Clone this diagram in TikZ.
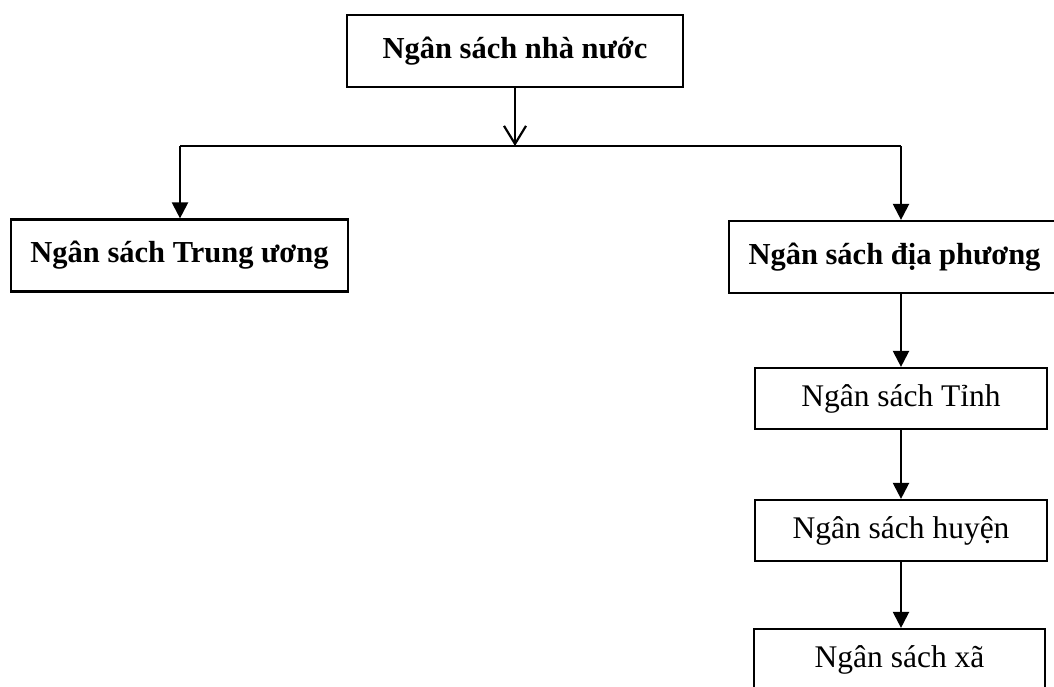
\documentclass[tikz,border=0pt]{standalone}
\usepackage{fontspec}
\setmainfont{Liberation Serif}
\usetikzlibrary{arrows.meta}
\begin{document}
\begin{tikzpicture}[x=1pt, y=-1pt, line width=2.2pt, >={Triangle[length=16pt,width=16pt]},
		box/.style={draw, rectangle, inner sep=0pt, minimum height=61pt, font=\fontsize{31.5}{36}\selectfont},
		boldbox/.style={box, minimum height=72pt, font=\fontsize{30.5}{36}\selectfont\bfseries}]
	\useasboundingbox (0,0) rectangle (1054,686);
	\node[boldbox, minimum width=336pt] (nsnn) at (515,51) {Ngân sách nhà nước};
	\node[boldbox, minimum width=337pt] (tw) at (179.5,255.5) {Ngân sách Trung ương};
	\node[boldbox, minimum width=331pt] (dp) at (894.5,257) {Ngân sách địa phương};
	\node[box, minimum width=292pt] (tinh) at (901,398.5) {Ngân sách Tỉnh};
	\node[box, minimum width=292pt] (huyen) at (901,530.5) {Ngân sách huyện};
	\node[box, minimum width=291pt] (xa) at (899.5,659.5) {Ngân sách xã};
	\coordinate (split) at (515,146);
	\coordinate (jl) at (180,146);
	\coordinate (jr) at (901,146);
	\draw[-{Straight Barb[length=18pt,width=22pt]}] (nsnn.south) -- (split);
	\draw (jl) -- (jr);
	\draw[->] (jl) -- (jl |- tw.north);
	\draw[->] (jr) -- (jr |- dp.north);
	\draw[->] (dp.south -| tinh.north) -- (tinh.north);
	\draw[->] (tinh.south) -- (huyen.north);
	\draw[->] (huyen.south) -- (huyen.south |- xa.north);
\end{tikzpicture}
\end{document}
